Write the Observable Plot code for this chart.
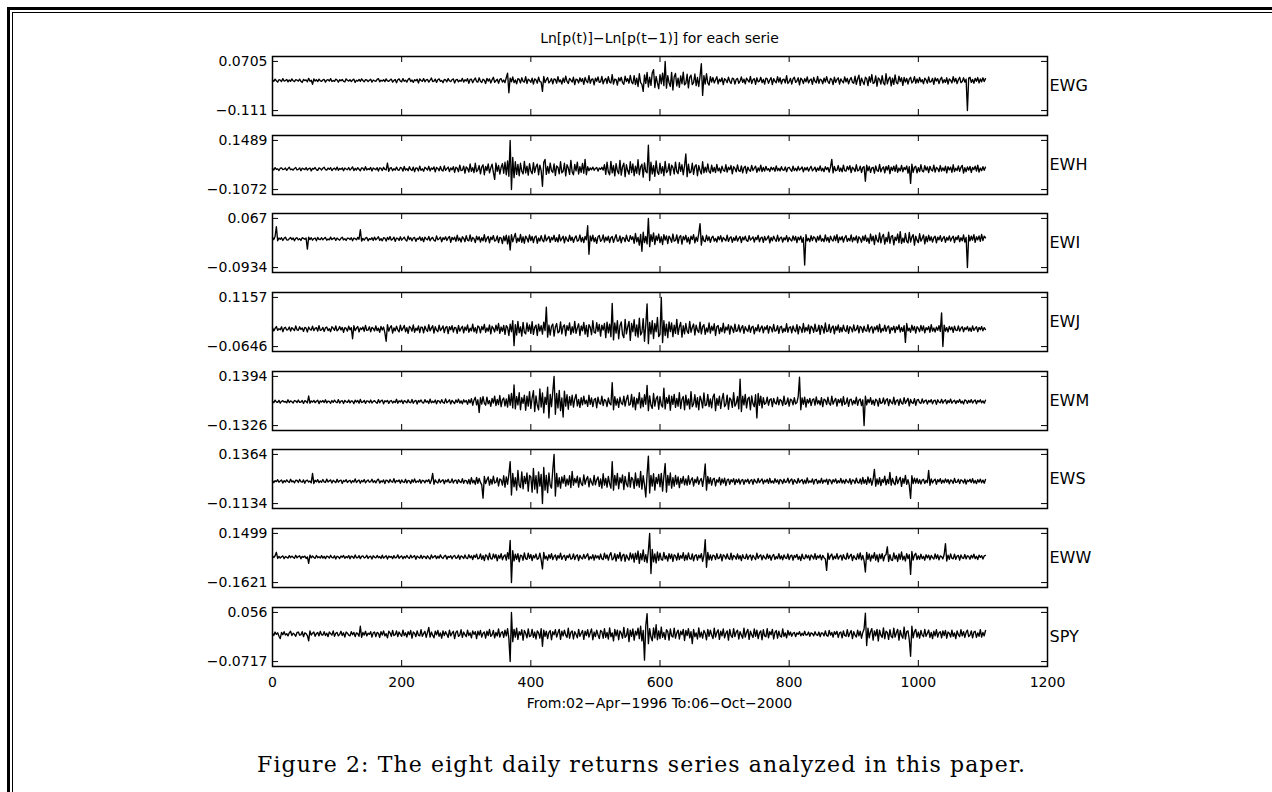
<!DOCTYPE html>
<html><head><meta charset="utf-8">
<script src="https://cdn.jsdelivr.net/npm/d3@7"></script>
<script src="https://cdn.jsdelivr.net/npm/@observablehq/plot@0.6"></script>
<style>
html,body{margin:0;padding:0;background:#fff;}
#page{position:relative;width:1272px;height:792px;overflow:hidden;background:#fff;}
.fo{position:absolute;left:7px;top:7px;width:1400px;height:900px;border-left:3px solid #000;border-top:3px solid #000;}
.fi{position:absolute;left:12px;top:12px;width:1400px;height:900px;border-left:1.5px solid #000;border-top:1.5px solid #000;}
.panel{position:absolute;left:0;}
.t{position:absolute;left:272px;width:775px;text-align:center;font-family:'DejaVu Sans',sans-serif;font-size:14px;line-height:16px;color:#000;white-space:nowrap;}
</style></head>
<body><div id="page"><div class="fo"></div><div class="fi"></div>
<div class="t" id="title" style="top:30px"></div>
<div class="t" id="xlabel" style="top:695px"></div>
</div>
<script>
// ---- data ----
const titleText = "Ln[p(t)]−Ln[p(t−1)] for each serie";
const xLabelText = "From:02−Apr−1996 To:06−Oct−2000";
const captionText = "Figure 2: The eight daily returns series analyzed in this paper.";
const names = ["EWG","EWH","EWI","EWJ","EWM","EWS","EWW","SPY"];
const yTickValues = [[0.0705,-0.111],[0.1489,-0.1072],[0.067,-0.0934],[0.1157,-0.0646],[0.1394,-0.1326],[0.1364,-0.1134],[0.1499,-0.1621],[0.056,-0.0717]];
const yTickLabels = [["0.0705","−0.111"],["0.1489","−0.1072"],["0.067","−0.0934"],["0.1157","−0.0646"],["0.1394","−0.1326"],["0.1364","−0.1134"],["0.1499","−0.1621"],["0.056","−0.0717"]];
const xTicks = [0,200,400,600,800,1000,1200];
const xInnerTicks = [200,400,600,800,1000];
const dayStep = 2; // one sample every 2 observations
// returns in thousandths
const EWG = [2,-3,5,-1,-6,3,1,-4,7,-2,0,4,-5,2,-3,6,-1,-4,3,1,
-2,5,-3,-7,4,0,2,-5,8,-3,1,-14,6,-2,3,-4,5,-1,-3,2,
4,-6,1,3,-2,7,-4,0,-3,5,2,-6,3,-1,4,-3,-5,6,1,-2,
3,-4,2,5,-7,1,-2,4,-3,6,0,-5,3,2,-4,1,5,-6,2,-1,
-3,4,7,-5,1,-2,3,-4,6,-1,-3,2,5,-6,0,4,-8,3,6,-2,
-5,7,-3,1,-6,4,8,-4,2,-7,3,-1,5,-9,6,0,-3,7,-5,2,
4,-6,1,9,-4,-2,5,-7,3,6,-3,0,-8,4,2,-5,7,-1,-4,3,
6,-9,2,4,-5,1,-3,8,-6,3,-2,7,-10,4,5,-8,2,9,-4,-6,
10,-3,-7,5,1,-11,8,-2,6,-9,3,12,-7,-1,5,-10,4,7,-6,2,
-8,11,27,-45,9,-5,13,-8,2,-12,7,4,-9,10,-3,-6,14,-11,5,1,
-7,9,-13,6,2,-10,12,-4,-6,-40,15,-8,3,11,-9,-2,7,-12,6,4,
-10,14,-5,2,-13,9,-7,16,-3,-11,8,1,-6,12,-15,5,3,-9,10,-4,
7,-14,11,-2,-8,18,-10,4,6,-16,9,-3,13,-7,-5,15,-12,2,8,-11,
14,-6,-9,22,-13,5,3,-17,10,-2,12,-8,-14,16,-4,7,-10,19,-6,-12,
18,-15,9,-22,25,-8,-14,-40,21,-11,30,-24,12,-18,28,40,-26,15,-9,-30,
22,-12,27,-19,70.5,-28,18,-8,-22,30,-35,14,26,-20,9,-25,17,-12,31,-16,
-10,23,-27,12,20,-15,-8,24,-19,11,-22,16,62,-55,18,-13,25,-9,-17,14,
-6,11,-9,3,14,-12,5,-4,10,-15,7,2,-8,12,-3,-11,9,6,-13,4,
8,-10,-2,13,-7,5,-12,9,1,-6,15,-11,3,7,-14,10,-5,-2,12,-8,
4,-13,9,6,-10,2,11,-15,7,-3,-8,14,-6,10,-12,3,5,-9,18,-11,
-4,8,-13,6,12,-7,-2,10,-16,9,3,-11,7,-5,13,-9,1,6,-14,11,
-3,-8,15,-10,5,2,-12,9,-6,14,-4,-11,8,3,-15,12,-7,4,10,-13,
6,-2,-9,13,-5,8,-12,3,11,-7,-10,16,-14,6,20,-18,9,-4,-15,12,
7,-19,14,-6,22,-11,-8,17,-21,10,4,-13,18,-9,-16,25,-12,5,13,-20,
9,-14,21,-7,-12,16,-4,10,-18,11,-6,8,-13,5,12,-9,-3,14,-10,6,
-8,11,-5,3,-12,9,2,-10,13,-6,-4,8,-14,10,-2,7,-11,4,12,-9,
3,-7,10,-13,6,1,-9,14,-5,8,-11,3,12,-8,-4,10,-6,5,-111,9,
12,-7,4,-10,8,-3,11,-9,6,-5,10,-4,7];
const EWH = [3,-5,7,-2,1,-8,4,6,-3,-1,5,-7,2,9,-4,0,-6,3,8,-5,
-2,6,-9,4,1,-3,7,-6,2,5,-10,3,-1,8,-4,-7,6,2,-5,4,
9,-3,-6,5,-2,7,-8,1,4,-5,10,-7,3,-2,6,-9,5,0,-4,8,
-6,2,11,-8,3,-5,7,-1,-9,6,4,-7,12,-5,2,-3,8,-10,5,1,
-4,7,-11,6,3,-8,9,-2,-5,31,-12,4,7,-9,2,-6,10,-4,-7,8,
5,-11,13,-6,2,-9,12,-3,-8,10,-14,6,4,-10,15,-7,1,-12,9,3,
-6,14,-10,5,-2,11,-15,8,3,-9,13,-5,-11,16,-7,2,10,-13,6,-4,
12,-18,9,4,-14,20,-8,-6,15,-22,11,3,-16,26,-12,7,-19,30,-14,-5,
18,-25,10,22,-30,14,-8,27,-20,6,25,-18,-54,31,-12,19,-26,8,28,-22,
35,-30,42,-38,148.9,-107.2,60,-45,38,-28,24,-35,30,-12,-26,40,-20,15,-32,28,
-10,-25,33,-18,12,26,-30,20,-8,-90,35,50,-28,14,-22,31,-9,-18,27,-34,
16,8,-25,38,-20,-12,30,-36,22,5,-28,45,-15,-30,24,-10,36,-26,12,-18,
29,-22,50,-30,12,-9,6,-4,10,-7,3,8,-11,5,-2,9,-6,22,-28,35,
-15,-30,40,-20,18,-36,28,-10,-25,45,-32,12,30,-40,22,-8,-28,38,-18,26,
-35,15,-22,48,-30,10,25,-42,32,-12,-20,124,-60,35,-25,18,-38,42,-15,-28,
30,-22,12,-35,40,-18,-10,28,-32,20,8,-26,36,-14,-24,33,-12,22,-30,16,
78,-40,25,-20,-15,30,-28,14,22,-35,18,-8,-26,38,-20,10,-16,27,-12,-22,
20,-14,8,-18,24,-10,5,-20,15,-6,-12,22,-16,9,-4,18,-25,12,3,-15,
21,-9,-13,16,-20,7,14,-22,10,-5,-12,19,-8,4,15,-17,6,-10,20,-13,
8,-11,14,-6,2,-13,10,-4,7,-12,16,-8,3,-10,12,-5,-7,11,-14,6,
9,-3,-12,15,-8,4,-10,13,-6,1,11,-15,7,-5,9,-11,3,14,-9,-2,
10,-13,6,-7,16,-10,4,-14,12,-3,8,-16,11,50,-20,14,-9,-6,18,-12,
5,-15,20,-8,-11,13,-4,17,-19,9,2,-13,22,-10,-6,15,-18,8,12,-64,
20,-10,14,-18,6,9,-22,16,-7,-12,24,-15,3,11,-20,13,-5,18,-24,10,
-8,15,-12,21,-17,5,-10,19,-14,8,-3,16,-22,12,-75,25,-18,9,14,-20,
7,-13,22,-9,-15,17,-6,11,-19,14,-4,-10,20,-16,8,3,-14,18,-11,6,
-9,15,-20,12,-5,10,-17,22,-13,4,-8,16,-12,9,19,-21,7,-14,11,-6,
13,-18,8,-3,15,-11,20,-16,5,-9,12,-7,10];
const EWI = [5,-2,8,40,-6,3,-1,4,-5,2,6,-3,-4,1,5,-2,3,-6,2,4,
-3,1,-5,4,2,-1,3,-33,6,-2,4,-4,1,3,-6,5,-1,-2,4,-3,
2,5,-4,0,-3,6,-2,1,4,-5,3,-1,-4,2,6,-3,1,-5,3,2,
-2,4,-6,3,1,-3,5,-1,30,-7,2,-4,3,5,-6,1,-2,4,-5,6,
-3,2,7,-5,1,-6,4,3,-7,5,-2,8,-4,-1,6,-8,3,2,-5,7,
-4,1,6,-3,-7,9,-2,4,-6,3,5,-8,2,-1,7,-5,4,-9,6,0,
-3,8,-6,2,5,-4,-7,10,-3,1,6,-9,4,-2,7,-5,3,8,-11,5,
-2,6,-8,12,-5,3,-10,7,2,-9,11,-4,-6,13,-8,5,1,-12,9,-3,
7,-10,4,-6,14,-9,2,8,-13,6,-2,11,-7,-4,10,-12,5,3,-15,9,
-6,12,-16,10,-36,14,-9,5,18,-12,3,-8,15,-11,7,-14,9,2,-10,13,
-5,8,-12,6,10,-14,3,-7,11,-4,-9,13,-6,2,8,-11,5,-3,12,-8,
4,-10,14,-6,1,9,-13,7,-2,-8,12,-5,6,-11,3,10,-7,-4,13,-9,
5,-12,8,-3,43,-50,10,-6,12,-9,4,-14,7,11,-8,-3,13,-10,6,-5,
9,-12,4,8,-11,2,14,-7,-6,10,-13,5,3,-9,12,-4,-8,11,-2,7,
-14,18,-9,5,-20,15,-40,22,-12,8,-16,67,-25,14,-8,20,-18,10,-5,16,
-12,7,-18,14,-4,10,-15,9,2,-11,16,-7,-5,13,-14,6,11,-17,8,-3,
12,-10,5,-16,9,-2,14,-13,6,-8,18,50,-20,10,-6,-9,12,-5,7,-11,
4,9,-7,2,-10,8,-3,11,-9,5,-1,-6,12,-8,3,7,-11,4,-5,10,
-7,2,8,-12,6,-3,9,-5,-8,11,-4,1,7,-10,5,-2,12,-9,3,6,
-11,8,-4,2,10,-13,5,-6,9,-1,-8,12,-7,3,6,-10,4,-3,11,-9,
5,-2,-7,10,-4,8,-12,6,-3,9,-11,4,-85,14,-6,2,-9,11,-5,7,
3,-10,8,-4,12,-7,1,-9,13,-6,5,-11,9,-2,-7,10,-5,14,-12,6,
-3,8,-10,4,11,-8,2,-6,13,-9,5,-4,10,-13,7,1,-11,9,-5,12,
-8,3,-14,16,-6,9,-18,12,-4,-10,20,-13,7,15,-17,5,-9,22,-14,8,
11,-19,6,-5,16,-12,24,-15,3,-11,18,-8,-13,21,-10,6,14,-20,9,-4,
-12,17,-7,2,13,-16,8,-9,12,-5,7,-10,4,9,-13,6,-3,11,-8,2,
8,-11,5,-4,10,-7,3,9,-12,6,-2,11,-9,4,-6,13,-10,5,-93.4,12,
-6,9,-4,14,-11,7,-3,10,-8,15,-5,9,4];
const EWJ = [4,-7,2,9,-5,1,-3,8,-10,3,6,-4,-2,7,-8,5,0,-6,11,-3,
-5,8,-2,4,-9,6,3,-11,7,-1,-4,10,-6,2,5,-8,12,-5,-3,6,
-9,4,7,-6,1,-10,8,3,-5,11,-7,-2,9,-4,6,-12,5,2,-8,10,
-3,5,-36,12,-6,3,9,-11,4,-2,7,-9,13,-5,-4,8,-10,6,2,-7,
11,-6,3,-12,9,-4,7,-14,-45,16,-8,5,12,-15,4,-7,10,-3,-11,14,
-6,2,13,-10,5,-16,9,4,-8,15,-12,3,-5,11,-13,7,6,-14,10,-2,
-9,16,-7,3,12,-15,8,-4,-10,14,-6,1,11,-13,5,9,-17,8,-3,12,
-11,6,4,-16,13,-8,2,10,-14,7,-5,15,-12,3,-7,18,-10,5,-15,11,
6,-14,9,-3,17,-12,4,-8,15,-18,10,2,-11,14,-6,20,-16,7,-9,13,
-20,12,5,-24,18,-10,30,-61,16,-22,28,-14,8,-26,24,-12,-18,22,-9,15,
-16,27,-20,6,14,-24,18,-8,12,-19,25,-6,80,-30,14,-22,10,18,-26,7,
20,-14,-10,26,-18,9,15,-25,12,-5,22,-20,8,-13,28,-16,4,19,-24,11,
-7,24,-19,13,-28,16,6,-21,30,-12,-15,23,-9,17,-26,14,-4,20,-32,25,
-14,18,-28,94,-40,22,-15,30,-36,12,26,-20,-32,35,-18,8,28,-42,20,-10,
34,-25,15,-30,40,-22,-12,38,-45,16,92,-54,24,-18,30,-35,20,-10,42,-28,
-20,115.7,-50,30,-24,18,-32,26,-10,22,-28,14,-16,35,-20,8,24,-30,12,-18,
20,-8,-16,28,-12,6,18,-22,14,-5,-13,25,-18,9,16,-20,4,-11,22,-15,
10,-6,19,-24,8,13,-17,5,-10,21,-14,7,-4,16,-19,11,2,-13,18,-9,
-6,15,-11,4,12,-16,8,-3,-9,14,-12,6,10,-18,5,-7,16,-10,3,11,
-14,7,-2,13,-15,9,4,-11,17,-8,-5,12,-16,6,10,-13,2,-9,19,-12,
5,8,-14,11,-4,-10,16,-18,9,3,-13,20,-11,6,-7,15,-17,10,4,-12,
18,-9,-6,14,-20,12,5,-15,22,-10,-8,17,-13,4,11,-18,9,-5,15,-12,
6,-10,14,-4,-9,12,-16,8,3,-11,15,-7,-2,13,-14,9,5,-12,10,-6,
-8,16,-11,4,9,-15,7,-3,12,-10,18,-13,2,-7,14,-9,6,11,-16,5,
-4,10,-13,8,-2,15,-11,6,-9,12,-49,20,-7,3,-12,14,-5,9,-15,8,
2,-10,13,-6,11,-14,5,-3,9,-12,16,-8,4,-11,7,-5,12,-9,59,-64.6,
14,-8,5,-11,9,-3,7,-12,10,-4,-6,11,-8,3,8,-10,5,-2,9,-7,
4,-9,11,-5,2,8,-10,6,-3,9,-7,5,-2];
const EWM = [3,-6,8,-2,-4,7,-9,2,5,-3,1,-7,10,-5,4,-1,-8,6,3,-5,
9,-4,-2,6,-10,5,1,-7,31,-9,4,-3,7,-6,2,8,-11,4,-2,6,
-5,10,-7,3,1,-9,6,-4,8,-2,-6,11,-8,3,5,-10,7,-1,-4,9,
-7,4,2,-11,8,-3,6,-9,12,-5,-2,7,-10,4,3,-6,9,-8,1,5,
-3,-9,11,-6,4,8,-12,5,-1,7,-10,3,6,-8,2,-5,13,-9,4,-2,
8,-11,5,1,-7,10,-4,-6,12,-9,3,7,-13,6,-2,9,-5,-8,11,-3,
4,-10,14,-7,2,-5,9,-12,6,3,-8,11,-4,-9,15,-6,1,10,-13,7,
-2,-11,9,-5,14,-8,4,-12,10,-3,6,-15,11,-7,16,-20,8,24,-18,10,
-60,22,-14,28,-9,-20,25,-12,6,-26,18,-8,30,-22,12,-16,34,-28,10,20,
-24,15,-30,38,-20,45,-35,92,-40,28,-18,50,-45,22,-10,36,-48,30,-25,55,
-38,20,60,-55,32,-20,-45,70,-30,48,-62,25,-15,80,-90,40,-28,55,139.4,-70,
45,-35,62,-50,20,-85,58,-25,38,-42,28,-20,35,-30,15,40,-24,12,-32,22,
-18,30,-12,8,-26,35,-15,20,-28,10,18,-34,25,-8,-14,30,-22,12,5,-27,
20,-10,-18,105,-45,28,-20,15,-32,24,-8,-16,30,-25,12,36,-20,-14,40,-30,
25,-45,18,-12,50,-35,20,-28,38,-15,90,-50,32,-20,-38,45,-25,15,30,-42,
28,-18,-30,75,-40,22,-10,35,-48,30,-15,40,-32,18,-25,50,-38,12,28,-45,
36,-20,15,-40,55,-28,-12,38,-30,22,-45,30,8,-35,48,-22,-18,40,-28,15,
-35,25,42,-50,18,-20,30,-38,12,45,-28,-15,36,-42,20,10,-32,50,-25,-10,
28,-40,124,-55,30,-18,40,-35,15,25,-45,32,-12,-28,38,-90,45,-20,30,-35,
22,-15,-8,25,-20,10,16,-28,18,-6,-14,24,-18,12,5,-22,30,-15,-10,20,
-25,14,8,-18,22,-12,-5,28,135,-45,20,-15,25,-30,12,-8,18,-22,10,15,
-20,26,-12,6,-18,22,-28,14,8,-16,24,-10,-20,30,-14,5,18,-25,12,-6,
16,-22,28,-15,-8,20,-26,10,14,-18,6,-12,25,-20,8,15,-22,10,-132.6,30,
-18,12,-6,22,-15,8,-20,14,5,-25,18,-10,-6,20,-14,9,16,-22,12,-4,
-12,24,-16,6,10,-20,15,-8,-14,22,-10,4,18,-24,12,-6,-10,16,-20,8,
12,-6,-10,15,-8,4,9,-14,7,-3,11,-12,5,8,-15,10,-2,-7,13,-9,
4,10,-12,6,-5,14,-9,2,8,-11,5,-4,12,-8,3,-13,9,6,-10,7,
-5,11,-8,3,9,-12,6,-2,10,-7,4,-9,8];
const EWS = [4,-7,3,-2,8,-5,1,6,-9,3,-4,7,-1,-6,10,-3,2,-8,5,4,
-6,9,-2,-5,7,-10,3,6,-4,1,-8,40,-12,5,-3,8,-7,2,-5,9,
-3,-6,11,-4,2,7,-9,5,-1,-7,10,-5,3,6,-11,4,-2,8,-6,1,
5,-9,3,-4,12,-7,2,6,-10,4,-3,9,-8,1,7,-5,-2,10,-6,3,
-8,5,11,-9,2,-4,7,-12,6,3,-7,9,-2,-5,13,-8,4,-1,6,-10,
7,-3,-6,10,-9,4,2,-11,8,-5,12,-7,1,-4,9,-10,5,3,-8,6,
-2,9,-12,5,40,-15,7,-4,-9,11,-6,2,8,-13,6,-3,10,-7,-5,12,
-9,4,6,-11,8,-2,-7,13,-10,5,3,-12,9,-14,18,-8,5,-16,20,-10,
14,-6,-18,-86,25,-12,8,22,-20,10,-14,26,-9,-5,18,-24,12,6,-20,28,
-30,22,-15,35,100,-70,40,-28,18,-45,55,-20,-32,48,-38,25,-12,42,-50,30,
22,-55,65,-40,28,-60,48,-25,35,-113.4,70,-45,30,-58,42,-20,-35,60,136.4,-75,
40,-28,18,-35,22,-10,30,-25,12,-18,28,-32,50,-20,15,-8,26,-30,18,-12,
-22,32,-15,10,24,-28,14,-6,-20,30,-18,8,22,-26,12,-35,38,-20,15,-30,
25,-12,-35,100,-45,30,-20,40,-38,18,-8,32,-42,25,-15,-28,45,-30,20,10,
-36,42,-22,15,-30,50,-40,28,-18,-80,35,128,-60,30,-25,38,-45,20,-12,35,
-28,40,-50,25,90,-55,30,-20,42,-35,18,-25,30,-15,22,-32,14,-10,25,-18,
12,-20,28,-15,6,18,-24,10,-8,22,-16,5,14,-26,20,88,-45,25,-12,18,
-20,10,15,-24,8,-5,20,-18,12,-9,16,-22,6,11,-15,8,-4,13,-17,9,
-6,12,-14,5,9,-16,7,-3,11,-12,4,8,-15,10,-2,-9,14,-7,3,12,
-13,6,-4,10,-11,15,-8,2,-10,13,-5,7,-14,9,4,-12,11,-6,-3,16,
-9,5,12,-15,8,-2,-10,14,-7,3,9,-13,6,-11,17,-8,2,-5,12,-14,
7,10,-12,4,-8,15,-10,6,-3,11,-16,9,5,-13,8,-4,12,-10,3,-7,
14,-9,6,-12,10,-2,-8,13,-15,7,4,-11,16,-6,-9,12,-14,20,-10,8,
-16,22,-8,14,-20,10,60,-25,12,-15,18,-22,9,-6,26,-18,10,-12,45,-20,
15,-8,-18,24,-12,6,20,-26,14,-10,30,-16,8,-20,-87,28,-12,16,-9,14,
-11,8,-14,6,10,-12,5,-7,55,-20,12,-9,4,11,-15,8,-3,13,-10,6,
-8,12,-5,9,-13,7,2,-11,14,-6,-4,10,-12,8,3,-9,11,-14,6,-2,
10,-7,13,-9,4,-12,8,-5,11,-8,6,-10,9];
const EWW = [5,-3,8,30,-9,4,-6,2,7,-10,3,-1,-7,9,-4,6,-2,-8,11,-5,
3,8,-11,4,-2,6,-9,1,-40,12,-5,7,-3,-8,10,-4,2,-6,9,-7,
4,-10,6,2,-7,11,-3,-5,8,-12,5,1,-9,7,-2,10,-8,3,-4,9,
-11,6,2,-8,13,-5,-3,9,-10,4,7,-6,-2,11,-9,3,5,-12,8,-1,
-6,10,-4,3,-9,12,-7,1,8,-13,6,-2,4,-10,9,-5,-3,14,-8,2,
7,-11,4,-6,10,-3,-8,12,-5,2,9,-14,6,-1,-7,11,-9,5,3,-10,
8,-4,-12,13,-6,2,9,-10,5,-7,14,-3,-9,6,11,-13,4,-2,8,-11,
5,10,-8,-4,12,-14,7,2,-9,13,-6,-10,15,-5,8,-16,11,-3,18,-12,
-7,20,-15,9,-22,14,6,-18,25,-10,-13,19,-6,16,-24,11,-8,22,-17,5,
14,-20,28,-12,105,-162.1,40,-25,18,-14,22,-30,12,8,-20,26,-10,-15,24,-8,
16,-22,10,-5,19,-14,-9,25,-18,-75,30,-12,6,-20,15,-8,22,-16,4,13,
-19,10,-7,24,-15,3,12,-21,9,-4,18,-13,-8,20,-16,7,14,-22,11,-5,
-12,17,-9,6,21,-18,3,-10,15,-20,12,-6,8,-14,19,-11,-16,25,-9,14,
-20,12,28,-18,-10,22,-26,15,-8,30,-24,10,18,-28,14,-5,-20,26,-12,20,
-32,25,-15,38,-40,22,-18,45,-28,15,-35,40,149.9,-105,48,-30,20,-38,32,-22,
25,-15,-20,30,-12,8,-26,22,-10,18,-28,14,6,-20,24,-16,10,-8,28,-22,
12,-18,26,-10,-14,20,-24,8,15,-20,12,-6,22,-28,10,110,-65,30,-18,14,
-20,12,8,-16,22,-10,-5,18,-24,14,6,-12,20,-8,-15,25,-18,10,3,-14,
20,-12,9,-22,15,-6,-10,18,-14,5,13,-20,11,-3,-16,24,-9,7,14,-18,
10,-4,-13,19,-8,12,-20,6,16,-15,3,-10,22,-12,8,-18,14,-5,-9,20,
-16,7,12,-20,10,-3,17,-14,5,-22,18,-8,-11,15,-6,10,-19,13,4,-12,
21,-15,8,-6,14,-18,10,-4,-12,-85,25,-14,8,19,-16,6,-10,22,-13,3,
12,-20,15,-8,-14,24,-10,6,18,-22,9,-5,-16,20,-12,26,-18,10,-24,-95,
30,-15,20,-26,12,-8,28,-20,14,-30,18,-10,22,-24,8,16,65,-28,15,-18,
-22,26,-12,10,-28,20,-14,32,-18,6,-25,22,-10,15,-110,35,-20,12,24,-16,
8,-14,18,-10,5,-20,15,-6,12,-17,10,-4,-13,20,-9,14,-18,7,3,-12,
16,85,-25,12,-15,20,-8,-11,18,-14,6,10,-20,13,-5,-9,16,-12,8,4,
-14,11,-6,18,-10,5,-16,12,-3,9,-13,7,10];
const SPY = [2,-4,5,-1,3,-6,-12,4,-2,6,-3,1,-5,3,7,-4,2,-1,-6,4,
5,-3,-2,6,-7,3,1,-4,-18,8,-3,2,5,-6,1,4,-5,7,-2,-3,
6,-4,2,-7,5,1,-3,8,-6,2,4,-5,-1,7,-4,3,-8,5,2,-3,
-5,6,-2,4,-7,3,1,-6,20,-9,4,-3,7,-5,2,-1,6,-8,3,5,
-7,4,2,-9,6,-3,8,-5,1,-10,7,3,-6,9,-4,-2,8,-7,5,-1,
-6,10,-4,3,-8,6,-2,9,-11,5,2,-7,8,-3,-5,11,-6,1,7,-9,
4,17,-8,5,-3,-10,7,-2,9,-6,3,-11,8,-4,6,-1,-9,10,-5,2,
7,-12,4,8,-6,-3,11,-9,5,-2,-7,10,-4,3,-10,8,-1,6,-12,7,
-3,9,-8,2,5,-11,7,-4,12,-6,-2,9,-10,4,-5,13,-8,3,6,-9,
10,-5,14,-12,-71.7,56,-20,12,-8,15,-14,6,-3,11,-16,9,2,-10,13,-7,
-4,12,-9,5,-13,8,3,-11,14,-32,10,-6,7,-12,4,9,-15,6,-2,11,
-8,3,12,-14,7,-5,10,-3,-9,15,-11,4,8,-13,6,-1,-10,12,-6,2,
9,-14,7,-4,11,-8,3,13,-15,5,-7,10,-2,-12,9,6,-11,14,-9,4,
-13,16,-7,3,-18,12,-5,10,-15,8,2,-11,17,-9,-4,14,-20,10,-6,13,
-16,7,-3,15,-12,20,-18,9,-68,22,53,-25,14,-8,-18,16,-10,24,-15,8,
-12,18,-9,4,-14,11,6,-16,13,-5,-8,15,-11,3,10,-13,7,-2,12,-17,
9,-4,14,-10,6,-25,12,-7,3,-13,16,-8,5,-11,9,2,-15,12,-6,10,
-3,-12,15,-8,4,11,-14,7,-5,13,-10,2,8,-16,12,-4,-9,14,-7,5,
10,-13,6,-3,-11,15,-8,4,12,-14,7,-2,-9,13,-6,10,-12,3,8,-15,
11,-5,-7,14,-10,6,-2,12,-13,4,9,-11,7,-5,-8,13,-6,3,-10,9,
-3,5,-6,2,4,-7,3,-1,6,-5,2,-4,7,-3,-2,5,-6,3,1,-5,
6,-2,-4,5,-7,3,2,-5,8,-4,-6,9,-3,4,-8,6,-1,7,-9,3,
5,-10,8,-4,-6,11,-7,2,9,-12,6,-3,-8,10,-5,7,-11,4,13,54,
-30,15,-10,6,14,-16,8,-5,12,-18,10,-3,-9,16,-12,7,4,-14,11,-6,
-10,15,-8,3,12,-16,9,-4,-11,18,-13,6,8,-15,-58,20,-10,6,12,-8,
5,-11,9,-3,-7,12,-6,2,10,-9,4,-12,7,-5,11,-8,3,6,-10,8,
-4,9,-11,5,2,-8,10,-6,3,-12,8,-2,-7,11,-5,6,-9,4,10,-7,
-3,8,-10,5,7,-9,3,-6,11,-8,4,-5,9];
const series = [EWG, EWH, EWI, EWJ, EWM, EWS, EWW, SPY];

// ---- layout ----
const panelTops = [56, 135, 213, 292, 371, 449, 528, 607];
const plotW = 775, plotH = 59, ML = 272, MR = 225, MT = 2;
const page = document.getElementById("page");
document.getElementById("title").textContent = titleText;
document.getElementById("xlabel").textContent = xLabelText;

series.forEach((vals, i) => {
  const data = vals.map((v, k) => ({day: k * dayStep, r: v / 1000}));
  const [hi, lo] = yTickValues[i];
  const pad = (hi - lo) * 0.1;
  const last = i === series.length - 1;
  const MB = last ? 30 : 2;
  const labelOf = new Map(yTickValues[i].map((v, j) => [v, yTickLabels[i][j]]));
  const marks = [
    Plot.line(data, {x: "day", y: "r", stroke: "#000", strokeWidth: 1.35}),
    Plot.tickY(yTickValues[i], {y: d => d, insetRight: plotW - 6, stroke: "#000"}),
    Plot.tickY(yTickValues[i], {y: d => d, insetLeft: plotW - 6, stroke: "#000"}),
    Plot.tickX(xInnerTicks, {x: d => d, insetBottom: plotH - 6, stroke: "#000"}),
    Plot.tickX(xInnerTicks, {x: d => d, insetTop: plotH - 6, stroke: "#000"}),
    Plot.axisY(yTickValues[i], {anchor: "left", tickSize: 0, tickPadding: 5, tickFormat: d => labelOf.get(d), fontSize: 14, label: null}),
    Plot.frame({stroke: "#000", strokeWidth: 1.5}),
    Plot.text([names[i]], {text: d => d, frameAnchor: "right", textAnchor: "start", dx: 2, fontSize: 16, fill: "#000"})
  ];
  if (last) marks.push(Plot.axisX(xTicks, {anchor: "bottom", tickSize: 0, tickPadding: 11, fontSize: 14, label: null, tickFormat: d => String(d)}));
  const svg = Plot.plot({
    width: 1272, height: plotH + MT + MB,
    marginTop: MT, marginBottom: MB, marginLeft: ML, marginRight: MR,
    x: {domain: [0, 1200], axis: last ? undefined : null},
    y: {domain: [lo - pad, hi + pad]},
    style: {fontFamily: "'DejaVu Sans', sans-serif", fontSize: "14px", background: "transparent", color: "#000", overflow: "visible"},
    marks
  });
  svg.classList.add("panel");
  svg.style.top = (panelTops[i] - MT) + "px";
  page.appendChild(svg);
});

// caption
const ns = "http://www.w3.org/2000/svg";
const cap = document.createElementNS(ns, "svg");
cap.setAttribute("width", 1272); cap.setAttribute("height", 45);
cap.style.position = "absolute"; cap.style.left = "0px"; cap.style.top = "745px";
const ct = document.createElementNS(ns, "text");
ct.setAttribute("x", 641); ct.setAttribute("y", 27);
ct.setAttribute("text-anchor", "middle");
ct.setAttribute("textLength", 768); ct.setAttribute("lengthAdjust", "spacing");
ct.setAttribute("font-family", "'DejaVu Serif', serif"); ct.setAttribute("font-size", 22);
ct.textContent = captionText;
cap.appendChild(ct);
page.appendChild(cap);
</script>
</body></html>
